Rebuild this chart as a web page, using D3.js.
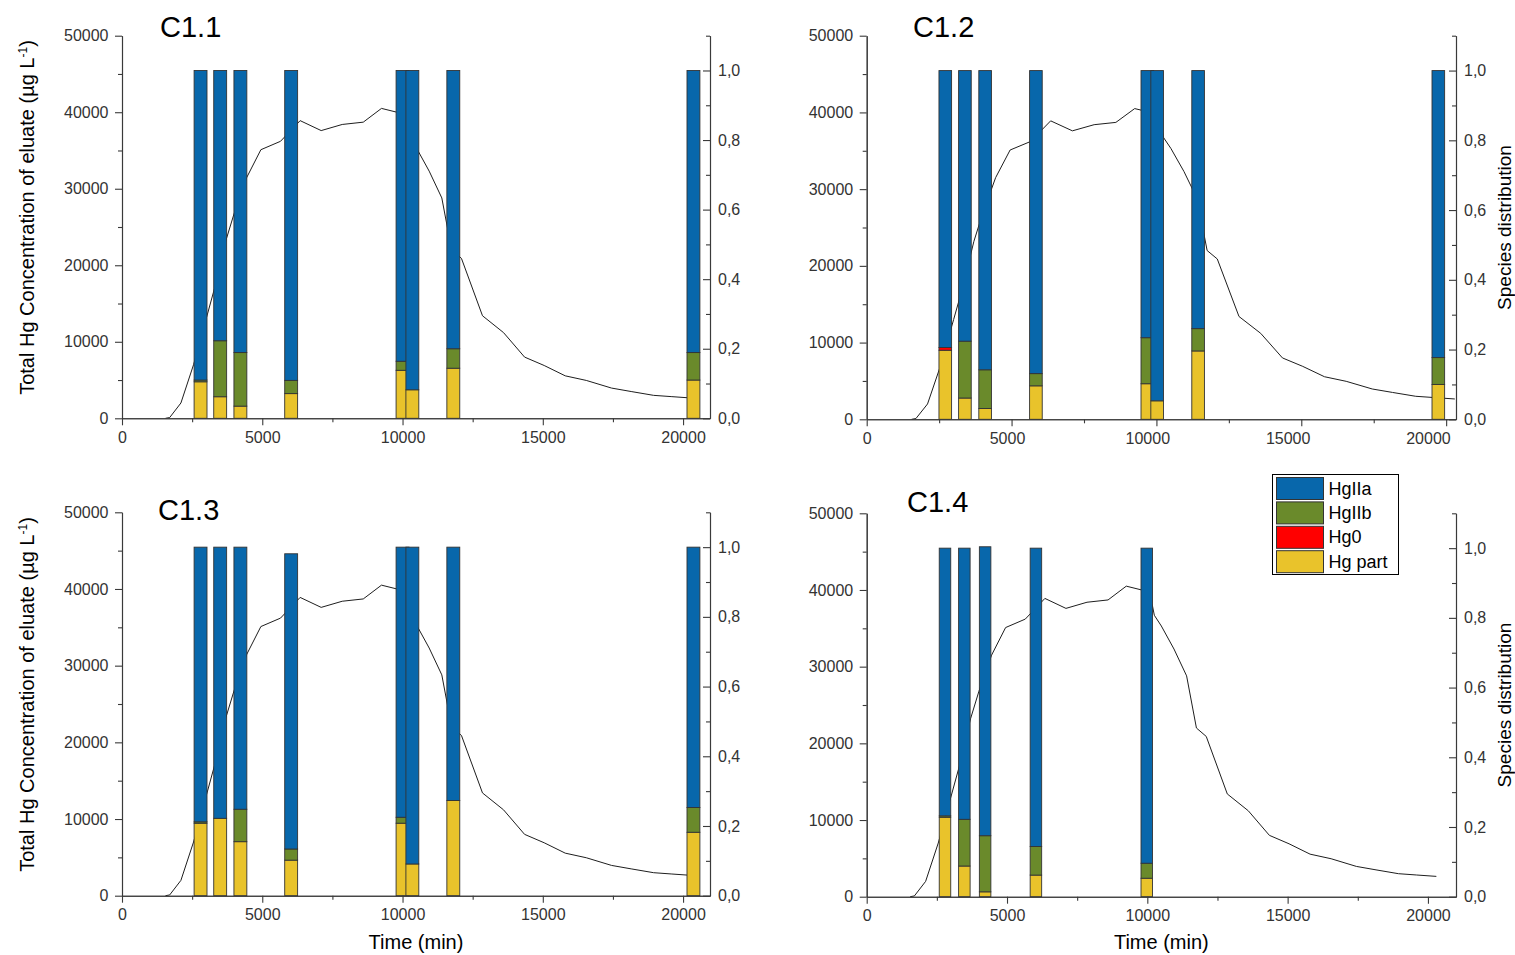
<!DOCTYPE html>
<html>
<head>
<meta charset="utf-8">
<script src="https://cdn.jsdelivr.net/npm/d3@7"></script>
<style>
  body { margin: 0; background: #fff; }
  text { font-family: Arial, "Liberation Sans", sans-serif; }
</style>
</head>
<body>
<svg id="chart" width="1515" height="955"></svg>
<script>
// total Hg concentration of the eluate (same curve in every panel)
const lineTime = [1550, 1700, 2100, 2550, 3000, 3300, 3700, 4000, 4450, 4950, 5650, 6350, 7100, 7850, 8600, 9250, 9800, 10180, 10250, 10500, 10950, 11400, 11750, 12100, 12850, 13600, 14350, 15050, 15800, 16550, 17450, 18150, 18950, 19600, 20300];
const lineConc = [0, 100, 2000, 7000, 13000, 17000, 23200, 26800, 31500, 35100, 36200, 38900, 37600, 38400, 38700, 40500, 40000, 38000, 36700, 35300, 32300, 28800, 22000, 20900, 13400, 11200, 8000, 6900, 5550, 4950, 3950, 3500, 3000, 2830, 2650];

// sampling times of the speciation bars
const barTimes = [2800, 3500, 4220, 6030, 10000, 10350, 11810, 20370];
const barTimesC14 = [2790, 3480, 4220, 6030, 9980];

// species fractions, per panel
const c11Part = [0.105, 0.062, 0.035, 0.071, 0.138, 0.082, 0.144, 0.110];
const c11Hg0  = [0, 0, 0, 0, 0, 0, 0, 0];
const c11IIb  = [0.005, 0.161, 0.154, 0.038, 0.026, 0, 0.056, 0.079];
const c11IIa  = [0.890, 0.777, 0.811, 0.891, 0.836, 0.918, 0.800, 0.811];

const c12Part = [0.198, 0.061, 0.031, 0.096, 0.102, 0.053, 0.196, 0.100];
const c12Hg0  = [0.008, 0, 0, 0, 0, 0, 0, 0];
const c12IIb  = [0, 0.163, 0.111, 0.035, 0.132, 0, 0.064, 0.077];
const c12IIa  = [0.794, 0.776, 0.858, 0.869, 0.766, 0.947, 0.740, 0.823];

const c13Part = [0.208, 0.222, 0.155, 0.102, 0.208, 0.091, 0.273, 0.182];
const c13Hg0  = [0, 0, 0, 0, 0, 0, 0, 0];
const c13IIb  = [0.004, 0, 0.093, 0.032, 0.017, 0, 0, 0.071];
const c13IIa  = [0.788, 0.778, 0.752, 0.847, 0.775, 0.909, 0.727, 0.747];

const c14Part = [0.228, 0.088, 0.014, 0.062, 0.053];
const c14Hg0  = [0, 0, 0, 0, 0];
const c14IIb  = [0.004, 0.134, 0.161, 0.082, 0.043];
const c14IIa  = [0.768, 0.778, 0.829, 0.856, 0.904];

const leftTicks = [0, 10000, 20000, 30000, 40000, 50000];
const leftMinor = [5000, 15000, 25000, 35000, 45000];
const rightTicks = [0, 0.2, 0.4, 0.6, 0.8, 1.0];
const rightMinor = [0.1, 0.3, 0.5, 0.7, 0.9, 1.1];
const timeTicks = [0, 5000, 10000, 15000, 20000];
const timeMinor = [2500, 7500, 12500, 17500];

const keys = ["part", "hg0", "iib", "iia"];
const legendKeys = ["iia", "iib", "hg0", "part"];
const legendLabels = { iia: "HgIIa", iib: "HgIIb", hg0: "Hg0", part: "Hg part" };
const colors = { iia: "#0867ab", iib: "#6a8a2b", hg0: "#ff0000", part: "#e9c32b" };

function rows(times, part, hg0, iib, iia) {
  return times.map((t, i) => ({ t: t, part: part[i], hg0: hg0[i], iib: iib[i], iia: iia[i] }));
}

const panels = [
  { name: "C1.1", x0: 122, x1: 710, yTop: 35.7, yBot: 418.3, barMax: 20960, lineMax: 20960, barW: 460,
    data: rows(barTimes, c11Part, c11Hg0, c11IIb, c11IIa), tx: 160, ty: 37, leftTitle: true },
  { name: "C1.2", x0: 866.7, x1: 1456, yTop: 35.7, yBot: 419.3, barMax: 21000, lineMax: 20340, barW: 450,
    data: rows(barTimes, c12Part, c12Hg0, c12IIb, c12IIa), tx: 913, ty: 37, rightTitle: true },
  { name: "C1.3", x0: 122, x1: 710, yTop: 512.3, yBot: 895.7, barMax: 20960, lineMax: 20960, barW: 460,
    data: rows(barTimes, c13Part, c13Hg0, c13IIb, c13IIa), tx: 158, ty: 520, leftTitle: true, bottomTitle: true },
  { name: "C1.4", x0: 866.7, x1: 1456, yTop: 513.3, yBot: 896.7, barMax: 21000, lineMax: 21000, barW: 410,
    data: rows(barTimesC14, c14Part, c14Hg0, c14IIb, c14IIa), tx: 907, ty: 512, rightTitle: true, bottomTitle: true }
];

const svg = d3.select("#chart");
svg.append("rect").attr("width", 1515).attr("height", 955).attr("fill", "#fff");

const axisColor = "#3a3a3a";
const intFmt = d3.format("d");
const commaFmt = v => d3.format(".1f")(v).replace(".", ",");
const stack = d3.stack().keys(keys);

function styleAxis(g) {
  g.selectAll("path, line").attr("stroke", axisColor).attr("stroke-width", 1.1);
  g.selectAll("text").attr("fill", "#333").style("font-size", "16px")
    .style("font-family", "Arial, 'Liberation Sans', sans-serif");
}

panels.forEach(p => {
  const xBar = d3.scaleLinear().domain([0, p.barMax]).range([p.x0, p.x1]);
  const xLine = d3.scaleLinear().domain([0, p.lineMax]).range([p.x0, p.x1]);
  const yConc = d3.scaleLinear().domain([0, 50000]).range([p.yBot, p.yTop]);
  const ySpec = d3.scaleLinear().domain([0, 1.1]).range([p.yBot, p.yTop]);

  const g = svg.append("g");

  // concentration curve (drawn below the bars)
  const line = d3.line().x(d => xLine(d[0])).y(d => yConc(d[1]));
  g.append("path")
    .datum(lineTime.map((t, i) => [t, lineConc[i]]))
    .attr("fill", "none")
    .attr("stroke", "#1e1e1e")
    .attr("stroke-width", 1)
    .attr("d", line);

  // stacked species bars
  const series = stack(p.data);
  g.selectAll("g.layer")
    .data(series)
    .enter().append("g")
    .attr("class", "layer")
    .attr("fill", d => colors[d.key])
    .selectAll("rect")
    .data(d => d)
    .enter().append("rect")
    .attr("x", d => xBar(d.data.t - p.barW / 2))
    .attr("width", d => xBar(d.data.t + p.barW / 2) - xBar(d.data.t - p.barW / 2))
    .attr("y", d => ySpec(d[1]))
    .attr("height", d => Math.max(0, ySpec(d[0]) - ySpec(d[1])))
    .attr("stroke", "#333")
    .attr("stroke-width", 0.9);

  // left axis
  g.append("g").attr("transform", `translate(${p.x0},0)`)
    .call(d3.axisLeft(yConc).tickValues(leftMinor).tickSize(4).tickSizeOuter(0).tickFormat(""))
    .call(styleAxis);
  g.append("g").attr("transform", `translate(${p.x0},0)`)
    .call(d3.axisLeft(yConc).tickValues(leftTicks).tickSize(7).tickSizeOuter(0).tickPadding(6.5).tickFormat(intFmt))
    .call(styleAxis);

  // right axis, ticks pointing inward
  g.append("g").attr("transform", `translate(${p.x1},0)`)
    .call(d3.axisRight(ySpec).tickValues(rightMinor).tickSize(-4).tickSizeOuter(0).tickFormat(""))
    .call(styleAxis);
  g.append("g").attr("transform", `translate(${p.x1},0)`)
    .call(d3.axisRight(ySpec).tickValues(rightTicks).tickSize(-7).tickSizeOuter(0).tickPadding(8).tickFormat(commaFmt))
    .call(styleAxis);

  // bottom axis: tick marks follow the curve layer, labels follow the bar layer
  g.append("g").attr("transform", `translate(0,${p.yBot})`)
    .call(d3.axisBottom(xLine).tickValues(timeMinor).tickSize(4).tickSizeOuter(0).tickFormat(""))
    .call(styleAxis);
  g.append("g").attr("transform", `translate(0,${p.yBot})`)
    .call(d3.axisBottom(xLine).tickValues(timeTicks).tickSize(7).tickSizeOuter(0).tickFormat(""))
    .call(styleAxis);
  g.append("g").attr("transform", `translate(0,${p.yBot})`)
    .call(d3.axisBottom(xBar).tickValues(timeTicks).tickSize(0).tickSizeOuter(0).tickPadding(13).tickFormat(intFmt))
    .call(styleAxis)
    .call(a => a.select(".domain").remove());

  // panel label
  g.append("text")
    .attr("x", p.tx).attr("y", p.ty)
    .attr("fill", "#000")
    .style("font-size", "29px")
    .text(p.name);

  const midY = (p.yTop + p.yBot) / 2;
  if (p.leftTitle) {
    const t = g.append("text")
      .attr("transform", `translate(34,${midY - 9.5}) rotate(-90)`)
      .attr("text-anchor", "middle")
      .attr("fill", "#000")
      .style("font-size", "20px");
    t.append("tspan").text("Total Hg Concentration of eluate (\u00b5g L");
    t.append("tspan").attr("dy", -7).style("font-size", "12px").text("-1");
    t.append("tspan").attr("dy", 7).text(")");
  }
  if (p.rightTitle) {
    g.append("text")
      .attr("transform", `translate(1511,${midY}) rotate(-90)`)
      .attr("text-anchor", "middle")
      .attr("fill", "#000")
      .style("font-size", "19px")
      .text("Species distribution");
  }
  if (p.bottomTitle) {
    g.append("text")
      .attr("x", (p.x0 + p.x1) / 2).attr("y", 949)
      .attr("text-anchor", "middle")
      .attr("fill", "#000")
      .style("font-size", "20px")
      .text("Time (min)");
  }
});

// legend
const legend = svg.append("g").attr("transform", "translate(1272.5,474.5)");
legend.append("rect")
  .attr("width", 126).attr("height", 100)
  .attr("fill", "#fff").attr("stroke", "#000").attr("stroke-width", 1);
legendKeys.forEach((k, i) => {
  legend.append("rect")
    .attr("x", 4).attr("y", 3 + i * 24.4)
    .attr("width", 47).attr("height", 22)
    .attr("fill", colors[k]).attr("stroke", "#333").attr("stroke-width", 1);
  legend.append("text")
    .attr("x", 56).attr("y", 20 + i * 24.4)
    .attr("fill", "#000")
    .style("font-size", "18px")
    .text(legendLabels[k]);
});
</script>
</body>
</html>
